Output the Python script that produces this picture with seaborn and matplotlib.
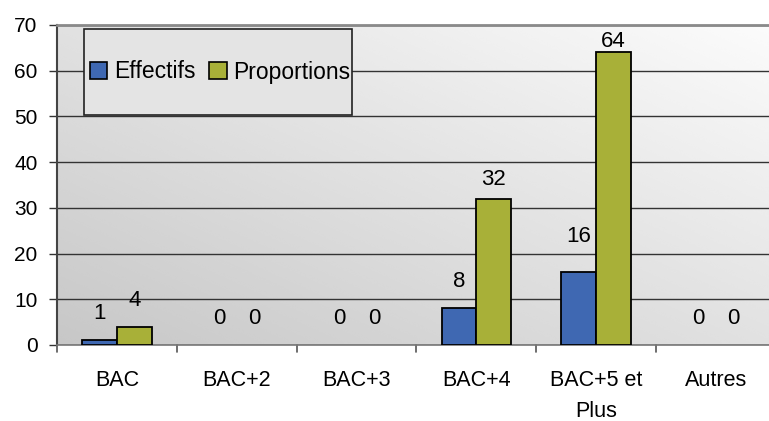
import numpy as np
import pandas as pd
import matplotlib
matplotlib.use("Agg")
import matplotlib.pyplot as plt
from matplotlib.patches import Rectangle
import seaborn as sns

categories = ["BAC", "BAC+2", "BAC+3", "BAC+4", "BAC+5 et\nPlus", "Autres"]
effectifs = [1, 0, 0, 8, 16, 0]
proportions = [4, 0, 0, 32, 64, 0]
series_names = ["Effectifs", "Proportions"]
yticks = [0, 10, 20, 30, 40, 50, 60, 70]
# label offsets above bars (points), as placed in the original
label_pad_effectifs = [11.5, 11.5, 11.5, 11.5, 18, 11.5]
label_pad_proportions = [11, 11.5, 11.5, 6.5, 0.5, 11.5]

df = pd.DataFrame({
    "cat": categories * 2,
    "val": effectifs + proportions,
    "serie": [series_names[0]] * len(categories) + [series_names[1]] * len(categories),
})

sns.set_style("white")
plt.rcParams["font.family"] = ["Liberation Sans", "DejaVu Sans"]
plt.rcParams["text.color"] = "black"
plt.rcParams["xtick.color"] = "black"
plt.rcParams["ytick.color"] = "black"
plt.rcParams["xtick.labelcolor"] = "black"
plt.rcParams["ytick.labelcolor"] = "black"

W, H = 769, 421
fig = plt.figure(figsize=(W / 100, H / 100), dpi=100)
ax = fig.add_axes([57 / W, 76 / H, 1 - 57 / W + 0.001, (345 - 25) / H])

g = np.linspace(0, 1, 200)
X, Y = np.meshgrid(g, g)
t = (X + Y) / 2
grad = 0.78 + (0.985 - 0.78) * t
ax.imshow(grad, cmap="gray", vmin=0, vmax=1, extent=[0, 1, 0, 1],
          transform=ax.transAxes, origin="lower", aspect="auto", zorder=0,
          interpolation="bicubic")

palette = {"Effectifs": "#3f68b2", "Proportions": "#a8b038"}
sns.barplot(data=df, x="cat", y="val", hue="serie", palette=palette, ax=ax,
            width=0.58, edgecolor="black", linewidth=1.3, saturation=1,
            zorder=3, legend=True)

for c in ax.containers:
    for bar, v in zip(c.patches, c.datavalues):
        if v == 0:
            bar.set_linewidth(0)

ax.set_ylim(0, 70)
ax.set_xlim(-0.5, 5.45)
ax.set_yticks(yticks)
ax.set_yticklabels([str(v) for v in yticks], fontsize=15)
ax.yaxis.grid(True, color="#333333", linewidth=1.0, zorder=1)
ax.set_axisbelow(True)
ax.set_xlabel("")
ax.set_ylabel("")

ax.set_xticks(np.arange(len(categories)))
ax.set_xticklabels(categories, fontsize=15.5, linespacing=1.6)
ax.tick_params(axis="x", length=0, pad=18, labelcolor="black")
for b in np.arange(-0.5, len(categories), 1.0):
    ax.plot([b, b], [0, -0.022], transform=ax.get_xaxis_transform(),
            color="#555555", lw=1.2, clip_on=False)
ax.tick_params(axis="y", length=6, width=1, color="#333333", pad=8, left=True,
               labelcolor="black")

for c, pads in zip(ax.containers, [label_pad_effectifs, label_pad_proportions]):
    for bar, v, p in zip(c.patches, c.datavalues, pads):
        ax.annotate(f"{v:.0f}", (bar.get_x() + bar.get_width() / 2, v),
                    xytext=(0, p), textcoords="offset points",
                    ha="center", va="bottom", fontsize=16, color="black", zorder=6)

ax.spines["right"].set_visible(False)
ax.spines["left"].set_color("#444444")
ax.spines["left"].set_linewidth(1.5)
ax.spines["top"].set_color("#8a8a8a")
ax.spines["top"].set_linewidth(2)
ax.spines["bottom"].set_color("#777777")
ax.spines["bottom"].set_linewidth(1.2)

aw, ah = W - 57, 320
def ax_x(px):
    return (px - 57) / aw
def ax_y(py):
    return (345 - py) / ah

ax.add_patch(Rectangle((ax_x(84), ax_y(115)), ax_x(352) - ax_x(84), ax_y(29) - ax_y(115),
                       transform=ax.transAxes, facecolor="#e4e4e4", edgecolor="#222222",
                       linewidth=1.2, zorder=4))
leg = ax.legend(loc="center left", bbox_to_anchor=(ax_x(90), ax_y(72)),
                ncol=2, fontsize=16.5, frameon=False,
                handlelength=0.75, handleheight=0.75, handletextpad=0.3,
                columnspacing=0.6, borderpad=0, borderaxespad=0)
leg.set_zorder(5)
for txt in leg.get_texts():
    txt.set_color("black")
for h in leg.legend_handles:
    h.set_edgecolor("black")
    h.set_linewidth(1.2)

fig.savefig("out.png", dpi=100)
